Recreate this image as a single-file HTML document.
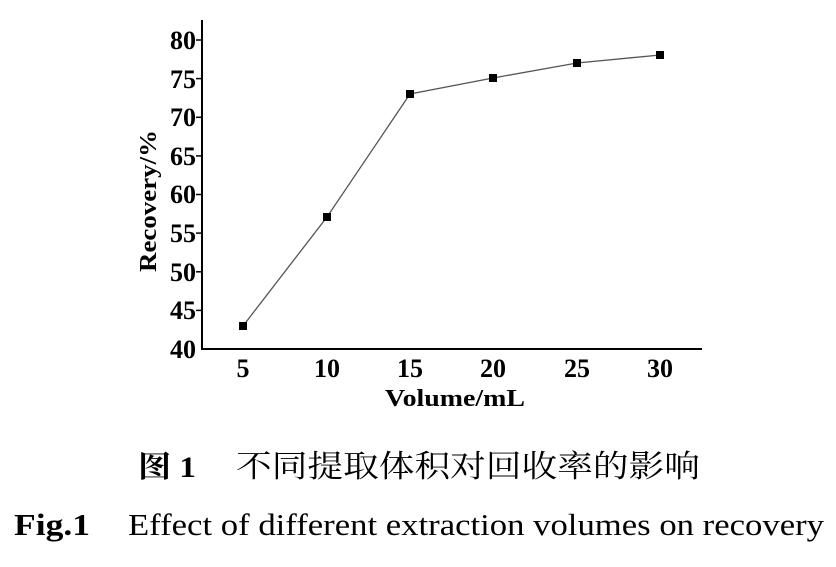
<!DOCTYPE html>
<html><head><meta charset="utf-8"><style>
body{margin:0;background:#fff;width:836px;height:562px;overflow:hidden}
svg text{font-family:"Liberation Serif","Noto Serif CJK SC",serif}
</style></head><body>
<svg width="836" height="562" xmlns="http://www.w3.org/2000/svg">
<g stroke="#000" stroke-width="2" fill="none">
<line x1="202" y1="20" x2="202" y2="350"/>
<line x1="201" y1="349" x2="702" y2="349"/>
</g>
<g stroke="#000" stroke-width="1.5">
<line x1="196" y1="40" x2="202" y2="40"/><line x1="196" y1="78.6" x2="202" y2="78.6"/>
<line x1="196" y1="117.3" x2="202" y2="117.3"/><line x1="196" y1="155.9" x2="202" y2="155.9"/>
<line x1="196" y1="194.5" x2="202" y2="194.5"/><line x1="196" y1="233.1" x2="202" y2="233.1"/>
<line x1="196" y1="271.8" x2="202" y2="271.8"/><line x1="196" y1="310.4" x2="202" y2="310.4"/>
</g>
<g font-size="26" font-weight="bold" text-anchor="end">
<text x="196" y="49">80</text><text x="196" y="88">75</text><text x="196" y="126">70</text>
<text x="196" y="165">65</text><text x="196" y="203">60</text><text x="196" y="242">55</text>
<text x="196" y="281">50</text><text x="196" y="319">45</text><text x="196" y="358">40</text>
</g>
<g font-size="26" font-weight="bold" text-anchor="middle">
<text x="243" y="377">5</text><text x="327" y="377">10</text><text x="410" y="377">15</text>
<text x="493" y="377">20</text><text x="577" y="377">25</text><text x="660" y="377">30</text>
</g>
<text x="455" y="406" font-size="24" font-weight="bold" text-anchor="middle" textLength="140" lengthAdjust="spacingAndGlyphs">Volume/mL</text>
<text transform="translate(156,201) rotate(-90)" font-size="24" font-weight="bold" text-anchor="middle" textLength="142" lengthAdjust="spacingAndGlyphs">Recovery/%</text>
<polyline points="243,326 327,217 410,94 493,78 577,63 660,55" fill="none" stroke="#555" stroke-width="1.3"/>
<g fill="#000">
<rect x="239" y="322" width="8" height="8"/><rect x="323" y="213" width="8" height="8"/>
<rect x="406" y="90" width="8" height="8"/><rect x="489" y="74" width="8" height="8"/>
<rect x="573" y="59" width="8" height="8"/><rect x="656" y="51" width="8" height="8"/>
</g>
<text x="138" y="477" font-size="30" font-weight="bold" textLength="58" lengthAdjust="spacingAndGlyphs">图 1</text>
<text x="236" y="477" font-size="31" textLength="464" lengthAdjust="spacingAndGlyphs">不同提取体积对回收率的影响</text>
<text x="14" y="535" font-size="31" font-weight="bold" textLength="76" lengthAdjust="spacingAndGlyphs">Fig.1</text>
<text x="128" y="535" font-size="31" textLength="696" lengthAdjust="spacingAndGlyphs">Effect of different extraction volumes on recovery</text>
</svg>
</body></html>
